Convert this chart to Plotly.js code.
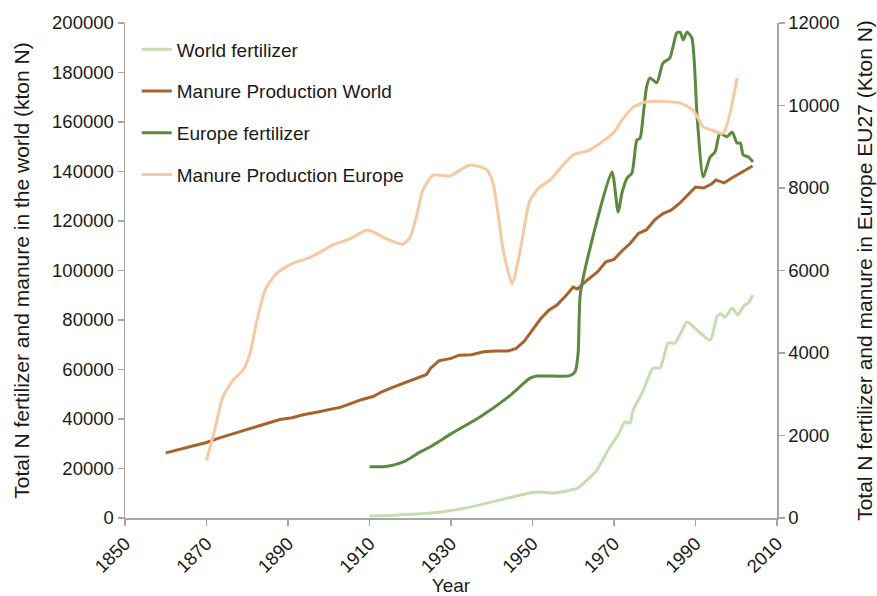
<!DOCTYPE html>
<html>
<head>
<meta charset="utf-8">
<script src="https://cdn.plot.ly/plotly-3.0.1.min.js"></script>
<style>html,body{margin:0;padding:0;background:#fff;}#chart{width:877px;height:596px;}</style>
</head>
<body>
<div id="chart"></div>
<script>
// World fertilizer (left axis, kton N)
const worldFertYears = [1910,1915,1920,1925,1930,1935,1940,1945,1950,1952,1955,1957,1960,1961,1963.4,1965.8,1969,1971,1972.7,1973.9,1974.7,1976.9,1979.6,1981.3,1983.3,1985,1987.9,1989,1993.6,1995.3,1996.2,1997.2,1999,2000.4,2001,2002.1,2003,2004.1];
const worldFertValues = [800,1000,1500,2000,3000,4500,6500,8500,10300,10500,10100,10500,11500,12000,15350,19400,28700,33500,38800,38400,43600,50500,60600,60600,70700,70700,79200,78000,71900,81500,82500,81000,84800,82000,83500,86100,87000,90100];

// Manure Production World (left axis)
const manureWorldYears = [1860,1863,1866,1870,1873,1876,1880,1884,1888,1891,1894,1897,1900,1903,1905,1908,1911,1913,1916,1919,1922,1924,1925,1927,1930,1932,1935,1938,1941,1944,1946,1948,1950,1952,1954,1956,1958,1960,1961,1963,1966,1968,1970,1972,1974,1976,1978,1980,1982,1984,1986,1988,1990,1992,1994,1995,1997,1999,2001,2004];
const manureWorldValues = [26300,27500,28700,30500,32300,33800,35800,38000,39800,40500,41800,42700,43600,44800,46000,47800,49200,51000,53000,54800,56800,58000,60500,63500,64500,65800,66000,67200,67500,67500,68500,71500,76000,80500,84000,86000,89500,93300,92500,95500,99500,103500,104500,108000,111000,115000,116500,120500,123000,124400,127000,130500,133700,133300,135000,136600,135400,137500,139500,142200];

// Europe fertilizer (right axis, Kton N)
const euroFertYears = [1910,1914,1917.5,1920,1922,1924.8,1930,1937.1,1944,1949.4,1951.1,1955,1959.2,1960.5,1961.2,1961.7,1963.6,1969.5,1971,1972,1973.2,1974.4,1975.6,1976.4,1977.2,1978,1978.8,1980.5,1982,1983.7,1985.4,1986.2,1987,1987.9,1989.1,1990.4,1991.9,1993.6,1994.8,1996,1997.7,1999,2000.2,2001,2001.7,2003,2004.1];
const euroFertValues = [1240,1250,1330,1450,1580,1720,2040,2450,2930,3390,3440,3440,3450,3560,4000,5400,6330,8390,7420,7900,8240,8360,9160,9210,9800,10450,10670,10550,11030,11150,11760,11780,11590,11780,11640,9720,8270,8750,8870,9330,9240,9360,9090,9090,8800,8750,8630];

// Manure Production Europe (right axis)
const manureEuroYears = [1870,1872,1874,1876.5,1879,1880.7,1882.4,1884.4,1887.3,1891.3,1895,1898,1901,1905,1908,1909.6,1912,1914.3,1918.2,1920,1921.5,1923.1,1925.6,1929.8,1932,1934.7,1938.8,1940.3,1941.5,1942.8,1945,1947,1949.4,1951.8,1954.3,1957,1960,1964,1969.8,1972,1974.7,1978,1982,1986.2,1989.4,1991.9,1994,1996.8,2000.2];
const manureEuroValues = [1400,2130,2930,3340,3590,4000,4800,5530,5940,6180,6300,6450,6620,6760,6920,6980,6880,6760,6640,6810,7300,7950,8310,8290,8420,8560,8440,8120,7400,6500,5680,6500,7710,8020,8190,8500,8800,8920,9330,9650,9960,10090,10100,10060,9890,9480,9400,9330,10670];

const seriesNames = ["World fertilizer","Manure Production World","Europe fertilizer","Manure Production Europe"];
const seriesColors = ["#c6ddb0","#a9622b","#5b8a3e","#f6c9a2"];

const traces = [
  {x: worldFertYears, y: worldFertValues, yaxis: "y", name: seriesNames[0], color: seriesColors[0], shape: "spline"},
  {x: manureWorldYears, y: manureWorldValues, yaxis: "y", name: seriesNames[1], color: seriesColors[1], shape: "linear"},
  {x: euroFertYears, y: euroFertValues, yaxis: "y2", name: seriesNames[2], color: seriesColors[2], shape: "spline"},
  {x: manureEuroYears, y: manureEuroValues, yaxis: "y2", name: seriesNames[3], color: seriesColors[3], shape: "spline"}
].map((t, i) => ({
  type: "scatter", mode: "lines", x: t.x, y: t.y, yaxis: t.yaxis, name: t.name,
  legendgroup: "g" + i,
  line: {color: t.color, width: 3, shape: t.shape, smoothing: 0.6}
}));

const fontFam = "Liberation Sans, Arial, Helvetica, sans-serif";
const axisCommon = {
  showline: true, linecolor: "#a6a6a6", linewidth: 1.5,
  ticks: "outside", ticklen: 6, tickcolor: "#a6a6a6", tickwidth: 1.5,
  showgrid: false, zeroline: false,
  tickfont: {family: fontFam, size: 18.5, color: "#1a1a1a"},
  automargin: false
};

const layout = {
  width: 877, height: 596,
  margin: {l: 125, r: 100, t: 23, b: 78},
  paper_bgcolor: "#fff", plot_bgcolor: "#fff",
  font: {family: fontFam, color: "#1a1a1a"},
  showlegend: true,
  legend: {
    x: 0.018, y: 0.985, xanchor: "left", yanchor: "top",
    font: {family: fontFam, size: 19, color: "#1a1a1a"},
    bgcolor: "rgba(0,0,0,0)", tracegroupgap: 14, traceorder: "grouped"
  },
  xaxis: Object.assign({}, axisCommon, {
    range: [1850, 2010], dtick: 20, tick0: 1850, tickangle: -45,
    title: {text: "Year", font: {family: fontFam, size: 19, color: "#1a1a1a"}, standoff: 15}
  }),
  yaxis: Object.assign({}, axisCommon, {
    range: [0, 200000], dtick: 20000, tickformat: "d",
    title: {text: "Total N fertilizer and manure in the world (kton N)", font: {family: fontFam, size: 21, color: "#1a1a1a"}, standoff: 16}
  }),
  yaxis2: Object.assign({}, axisCommon, {
    range: [0, 12000], dtick: 2000, tickformat: "d",
    overlaying: "y", side: "right",
    title: {text: "Total N fertilizer and manure in Europe EU27 (Kton N)", font: {family: fontFam, size: 21, color: "#1a1a1a"}, standoff: 18}
  })
};

Plotly.newPlot("chart", traces, layout, {displayModeBar: false, staticPlot: true});
</script>
</body>
</html>
